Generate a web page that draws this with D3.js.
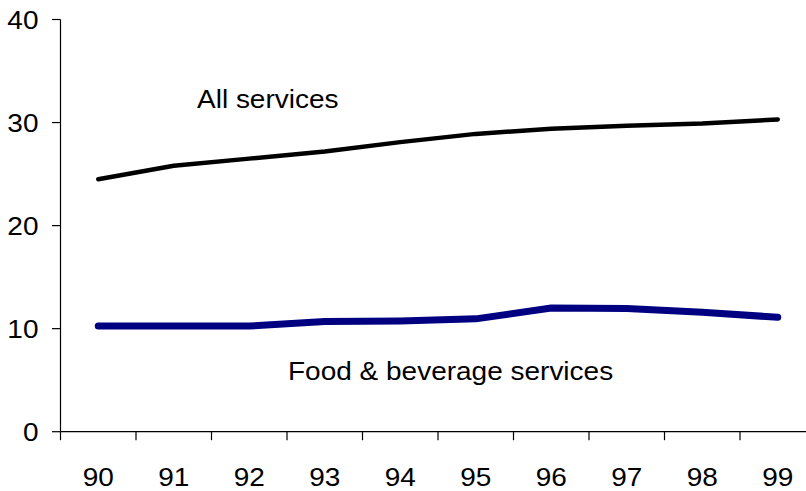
<!DOCTYPE html>
<html>
<head>
<meta charset="utf-8">
<script src="https://cdn.jsdelivr.net/npm/d3@7"></script>
<style>
  html, body { margin: 0; padding: 0; background: #fff; }
  svg { display: block; }
  text { font-family: "Liberation Sans", Arial, sans-serif; fill: #000; }
</style>
</head>
<body>
<svg id="chart" width="806" height="491"></svg>
<script>
const categories = ["90", "91", "92", "93", "94", "95", "96", "97", "98", "99"];
const allServices = [24.5, 25.8, 26.5, 27.2, 28.1, 28.9, 29.4, 29.7, 29.9, 30.3];
const foodBeverage = [10.25, 10.25, 10.25, 10.7, 10.75, 10.95, 12.0, 11.95, 11.6, 11.1];
const yTicks = [0, 10, 20, 30, 40];
const seriesNames = ["All services", "Food & beverage services"];

const svg = d3.select("#chart");
const W = 806, H = 491;
const fontSize = 25, stretch = 1.12;

const x = d3.scaleBand().domain(categories).range([60.5, 815.5]).paddingInner(0).paddingOuter(0);
const y = d3.scaleLinear().domain([0, 40]).range([431.7, 19.5]);

// Y axis
const yAxisG = svg.append("g");
yAxisG.append("line")
  .attr("x1", 60.5).attr("x2", 60.5)
  .attr("y1", y(40)).attr("y2", y(0))
  .attr("stroke", "#000").attr("stroke-width", 1.2);
yAxisG.selectAll("line.tick").data(yTicks).enter().append("line")
  .attr("class", "tick")
  .attr("x1", 52).attr("x2", 60.5)
  .attr("y1", d => y(d)).attr("y2", d => y(d))
  .attr("stroke", "#000").attr("stroke-width", 1.2);
yAxisG.selectAll("text").data(yTicks).enter().append("text")
  .attr("transform", d => `translate(38.5,${y(d) + 9.5}) scale(${stretch},1)`)
  .attr("text-anchor", "end")
  .style("font-size", fontSize + "px")
  .text(d => d);

// X axis
const xAxisG = svg.append("g");
xAxisG.append("line")
  .attr("x1", 60.5).attr("x2", W)
  .attr("y1", y(0)).attr("y2", y(0))
  .attr("stroke", "#000").attr("stroke-width", 1.2);
xAxisG.selectAll("line.tick").data(categories).enter().append("line")
  .attr("class", "tick")
  .attr("x1", d => x(d)).attr("x2", d => x(d))
  .attr("y1", y(0)).attr("y2", y(0) + 8.5)
  .attr("stroke", "#000").attr("stroke-width", 1.2);
xAxisG.selectAll("text").data(categories).enter().append("text")
  .attr("transform", d => `translate(${x(d) + x.bandwidth() / 2},485.5) scale(${stretch},1)`)
  .attr("text-anchor", "middle")
  .style("font-size", fontSize + "px")
  .text(d => d);

// Lines
const line = d3.line()
  .x((d, i) => x(categories[i]) + x.bandwidth() / 2)
  .y(d => y(d));

svg.append("path")
  .datum(allServices)
  .attr("d", line)
  .attr("fill", "none")
  .attr("stroke", "#000")
  .attr("stroke-width", 4.5)
  .attr("stroke-linecap", "round")
  .attr("stroke-linejoin", "round");

svg.append("path")
  .datum(foodBeverage)
  .attr("d", line)
  .attr("fill", "none")
  .attr("stroke", "#000080")
  .attr("stroke-width", 7)
  .attr("stroke-linecap", "round")
  .attr("stroke-linejoin", "round");

// Series labels
svg.append("text")
  .attr("transform", `translate(197,108.3) scale(${stretch},1)`)
  .style("font-size", fontSize + "px")
  .text(seriesNames[0]);
svg.append("text")
  .attr("transform", `translate(288,379.5) scale(${stretch},1)`)
  .style("font-size", fontSize + "px")
  .text(seriesNames[1]);
</script>
</body>
</html>
